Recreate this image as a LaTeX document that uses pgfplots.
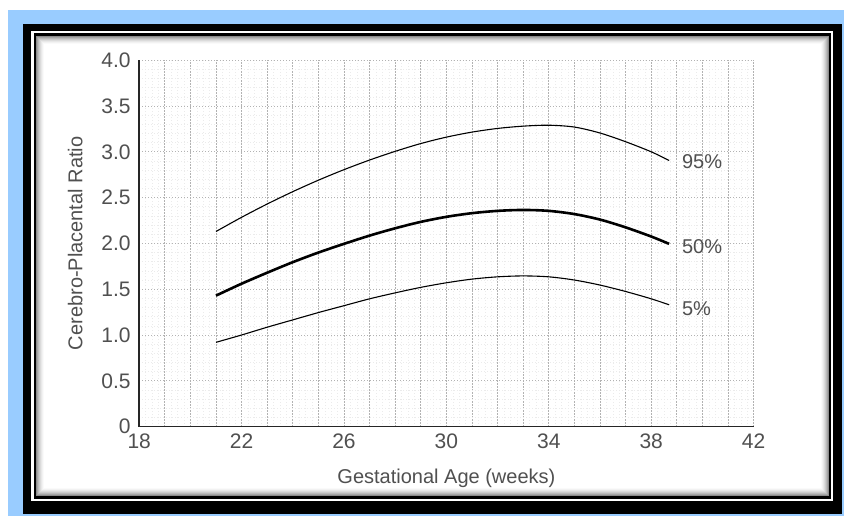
\documentclass[border=0pt]{standalone}
\usepackage{pgfplots}
\pgfplotsset{compat=1.18}
\usepackage{pgfplotstable}
\usepackage{fontspec}
\setmainfont{Liberation Sans}
\definecolor{bgblue}{HTML}{99CCFF}
\definecolor{txt}{HTML}{505050}

\pgfplotstableread{
x y
21 2.13
22 2.285
23 2.43
24 2.565
25 2.69
26 2.805
27 2.91
28 3.005
29 3.09
30 3.16
31 3.215
32 3.255
33 3.28
34 3.29
35 3.27
36 3.205
37 3.11
38 3.0
38.7 2.905
}\pninetyfive

\pgfplotstableread{
x y
21 1.43
22 1.56
23 1.68
24 1.795
25 1.90
26 1.995
27 2.085
28 2.165
29 2.235
30 2.29
31 2.33
32 2.355
33 2.365
34 2.355
35 2.32
36 2.26
37 2.175
38 2.075
38.7 1.995
}\pfifty

\pgfplotstableread{
x y
21 0.92
22 1.00
23 1.085
24 1.165
25 1.245
26 1.32
27 1.395
28 1.46
29 1.52
30 1.57
31 1.61
32 1.635
33 1.645
34 1.635
35 1.60
36 1.545
37 1.475
38 1.395
38.7 1.33
}\pfive

\begin{document}
\begin{tikzpicture}[x=1pt,y=1pt]
\useasboundingbox (0,0) rectangle (844,516);
\fill[white] (0,0) rectangle (844,516);
\fill[bgblue] (8,0) rectangle (844,506);
\fill[black] (23,2) rectangle (842,492);
\fill[white] (31,15) rectangle (833,485);
\fill[black] (33.5,17) rectangle (831,482.5);
\fill[white] (36,20) rectangle (829,480);
\foreach \i/\c in {0/45,1/35,2/27,3/20,4/14,5/9,6/5,7/2}{
  \draw[black!\c, line width=1pt] (36.5+\i,20.5+\i) rectangle (828.5-\i,479.5-\i);
}
\begin{axis}[
  at={(139.2pt,89.4pt)}, anchor=south west,
  x=25.6pt, y=91.6pt,
  xmin=18, xmax=42, ymin=0, ymax=4,
  axis x line*=bottom, axis y line*=left,
  axis line style={line width=1.6pt, black!85, -},
  xtick={18,19,...,42},
  xticklabels={18,,,,22,,,,26,,,,30,,,,34,,,,38,,,,42},
  ytick={0,0.5,...,4},
  yticklabels={0,0.5,1.0,1.5,2.0,2.5,3.0,3.5,4.0},
  minor x tick num=3,
  minor y tick num=4,
  major tick length=0pt, minor tick length=0pt,
  grid=both,
  major grid style={black!30, line width=0.8pt, dash pattern=on 1.2pt off 1.8pt},
  minor grid style={black!8, line width=0.6pt, dash pattern=on 1pt off 2pt},
  tick label style={font=\fontsize{21}{25}\selectfont, text=txt},
  xticklabel style={yshift=-4pt},
  yticklabel style={xshift=-5pt},
  xlabel={Gestational Age (weeks)},
  ylabel={Cerebro-Placental Ratio},
  label style={font=\fontsize{20}{24}\selectfont, text=txt},
  xlabel style={at={(axis description cs:0.5,0)}, anchor=center, yshift=-52pt},
  ylabel style={at={(axis description cs:0,0.5)}, anchor=center, yshift=64pt},
  clip=false,
]
\addplot[black, line width=1.1pt, smooth] table[x=x,y=y] {\pninetyfive};
\addplot[black, line width=2.6pt, smooth] table[x=x,y=y] {\pfifty};
\addplot[black, line width=1.1pt, smooth] table[x=x,y=y] {\pfive};
\node[anchor=west, font=\fontsize{20}{24}\selectfont, text=txt, inner sep=0pt] at (axis cs:39.2,2.89) {95\%};
\node[anchor=west, font=\fontsize{20}{24}\selectfont, text=txt, inner sep=0pt] at (axis cs:39.2,1.96) {50\%};
\node[anchor=west, font=\fontsize{20}{24}\selectfont, text=txt, inner sep=0pt] at (axis cs:39.2,1.29) {5\%};
\end{axis}
\end{tikzpicture}
\end{document}
